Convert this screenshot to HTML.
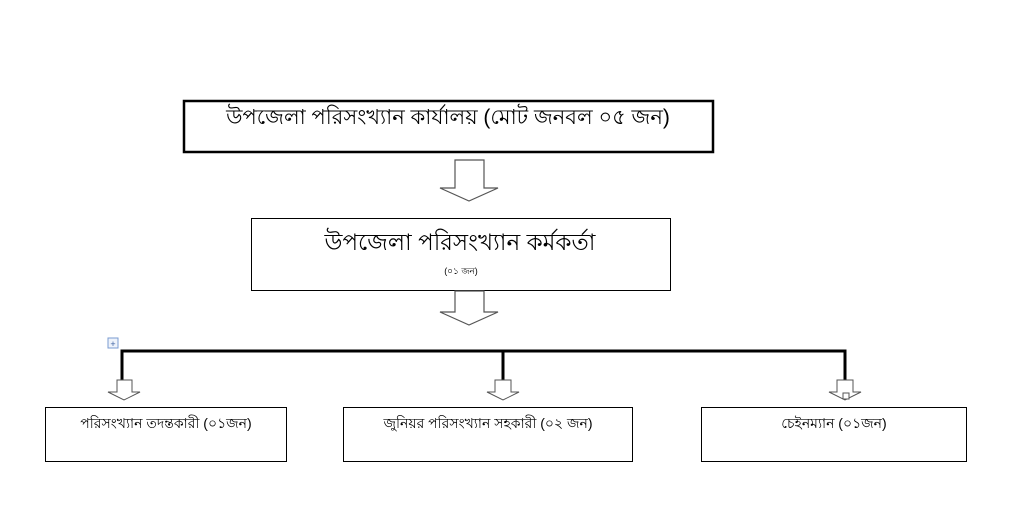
<!DOCTYPE html>
<html><head><meta charset="utf-8"><style>
html,body{margin:0;padding:0;background:#fff;}
svg{display:block;}
text{font-family:"Liberation Sans","Noto Sans CJK SC",sans-serif;fill:#000;}
</style></head><body>
<svg width="1013" height="527" viewBox="0 0 1013 527" xmlns="http://www.w3.org/2000/svg">
<rect x="184" y="101" width="529" height="51" fill="#fff" stroke="#000" stroke-width="2.5"/>
<text x="448" y="124" font-size="21" text-anchor="middle">উপজেলা পরিসংখ্যান কার্যালয় (মোট জনবল ০৫ জন)</text>
<polygon points="455,160 484,160 484,188 498,188 469,201 440,188 455,188" fill="#fff" stroke="#555" stroke-width="1.2"/>
<rect x="251.5" y="218.5" width="419" height="72" fill="#fff" stroke="#000" stroke-width="1"/>
<text x="460" y="250" font-size="23" text-anchor="middle">উপজেলা পরিসংখ্যান কর্মকর্তা</text>
<text x="461" y="274" font-size="9" text-anchor="middle">(০১ জন)</text>
<polygon points="455,291 484,291 484,312 498,312 469,325 440,312 455,312" fill="#fff" stroke="#555" stroke-width="1.2"/>
<rect x="108" y="338" width="10" height="10" fill="#eef3fb" stroke="#7a9bd0" stroke-width="1"/>
<text x="113" y="347" font-size="9" text-anchor="middle" style="fill:#3a5fa0">+</text>
<path d="M122,380 V351 H845 V380 M503,351 V380" fill="none" stroke="#000" stroke-width="3"/>
<polygon points="117,380 132,380 132,392 140,392 124,400 108,392 117,392" fill="#fff" stroke="#555" stroke-width="1"/>
<polygon points="495,380 511,380 511,392 519,392 503,400 487,392 495,392" fill="#fff" stroke="#555" stroke-width="1"/>
<polygon points="837,380 853,380 853,392 861,392 845,400 829,392 837,392" fill="#fff" stroke="#555" stroke-width="1"/>
<rect x="843" y="393" width="6" height="6" fill="#fff" stroke="#555" stroke-width="1"/>
<rect x="45.5" y="407.5" width="241" height="54" fill="#fff" stroke="#000" stroke-width="1"/>
<text x="166" y="428" font-size="14" text-anchor="middle">পরিসংখ্যান তদন্তকারী (০১জন)</text>
<rect x="343.5" y="407.5" width="289" height="54" fill="#fff" stroke="#000" stroke-width="1"/>
<text x="488" y="428" font-size="14" text-anchor="middle">জুনিয়র পরিসংখ্যান সহকারী (০২ জন)</text>
<rect x="701.5" y="407.5" width="265" height="54" fill="#fff" stroke="#000" stroke-width="1"/>
<text x="834" y="428" font-size="14" text-anchor="middle">চেইনম্যান (০১জন)</text>
</svg>
</body></html>
